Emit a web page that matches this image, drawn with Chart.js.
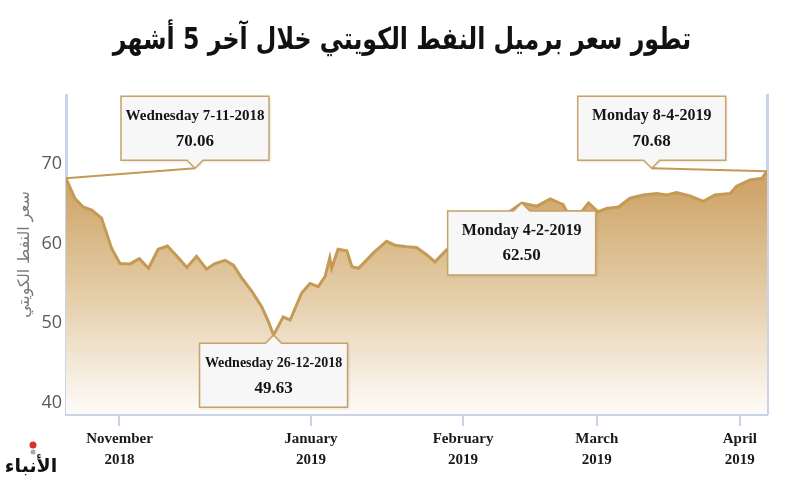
<!DOCTYPE html>
<html><head><meta charset="utf-8">
<script src="https://cdn.jsdelivr.net/npm/chart.js@4.4.1/dist/chart.umd.min.js"></script>
<style>html,body{margin:0;padding:0;background:#fff;}#wrap{width:793px;height:486px;}</style>
</head><body><div id="wrap"><canvas id="c" width="793" height="486"></canvas></div>
<script>
// ---- data ----
const titleText = 'تطور سعر برميل النفط الكويتي خلال آخر 5 أشهر';
const yAxisTitle = 'سعر النفط الكويتي';
const logoText = 'الأنباء';
// position along the time axis (days from first reading)
const xPos = [0,1.9,3.7,5.6,7.7,9.9,11.7,13.9,15.9,17.9,
  20.0,22.0,24.4,26.2,28.3,30.5,32.3,34.5,36.3,38.1,
  40.3,42.4,43.9,45.0,47.1,48.6,51.1,52.9,54.7,56.2,
  57.2,57.6,59.0,60.9,62.0,63.4,64.8,66.6,69.5,71.3,
  73.9,76.0,78.2,80.0,82.5,85.4,88.7,91.9,95.2,98.8,
  102.1,105.0,107.8,108.6,111.8,113.3,115.4,117.2,119.8,122.3,
  125.2,128.1,130.3,132.4,135.3,138.2,140.7,144.0,145.4,148.3,
  150.9,152];
const prices = [68.2,65.7,64.6,64.2,63.2,59.4,57.5,57.45,58.1,56.9,
  59.3,59.7,58.2,57.0,58.4,56.8,57.5,57.9,57.3,55.7,
  54.0,52.1,50.2,48.5,50.8,50.4,53.8,55.0,54.6,55.9,
  58.2,56.9,59.3,59.1,57.1,56.9,57.7,58.8,60.3,59.8,
  59.6,59.5,58.6,57.7,59.2,60.2,61.0,62.2,63.6,65.1,
  64.7,65.6,64.9,64.0,64.0,65.1,64.0,64.4,64.6,65.7,
  66.1,66.3,66.1,66.4,66.0,65.3,66.1,66.3,67.2,68.0,
  68.2,69.1];
const monthTickPos = [11.6,53.1,86.1,115.1,146.1];
const monthTickLabels = [['November','2018'],['January','2019'],['February','2019'],['March','2019'],['April','2019']];
const yTicks = [40,50,60,70];
const annDates = ['Wednesday 7-11-2018','Wednesday 26-12-2018','Monday 4-2-2019','Monday 8-4-2019'];
const annValues = ['70.06','49.63','62.50','70.68'];
const annPointIdx = [0,23,49,71];

// ---- annotation layout (styling) ----
const annLayout = [
  {dir:'down', tip:{x:27.97,y:69.46}, fs:15},
  {dir:'up', fs:14},
  {dir:'up', fs:16},
  {dir:'down', tip:{x:127.0,y:69.46}, fs:16}
];
const GOLD = '#c49a55';
const AXIS = '#c9d4e8';

const annPlugin = {
  id:'ann',
  afterDraw(chart){
    const {ctx, scales:{x,y}} = chart;
    const W=148,H=64,PH=8,PW=8;
    ctx.save();
    // title
    ctx.save();
    ctx.translate(402, 41);
    ctx.scale(0.79, 1);
    ctx.fillStyle='#111'; ctx.font='bold 30px "DejaVu Sans"';
    ctx.textAlign='center'; ctx.textBaseline='middle';
    ctx.fillText(titleText, 0, 0);
    ctx.restore();

    annPointIdx.forEach((idx,i)=>{
      const lay = annLayout[i];
      const px = x.getPixelForValue(xPos[idx]), py = y.getPixelForValue(prices[idx]);
      let tx=px, ty=py;
      if (lay.tip){ tx = x.getPixelForValue(lay.tip.x); ty = y.getPixelForValue(lay.tip.y); }
      const left = tx - W/2;
      let top;
      if (lay.dir==='down'){ top = ty-PH-H; } else { top = ty+PH; }
      if (lay.tip){
        ctx.strokeStyle=GOLD; ctx.lineWidth=2;
        ctx.beginPath(); ctx.moveTo(tx,ty); ctx.lineTo(px,py); ctx.stroke();
      }
      ctx.beginPath();
      if (lay.dir==='down'){
        ctx.moveTo(left,top); ctx.lineTo(left+W,top); ctx.lineTo(left+W,top+H);
        ctx.lineTo(tx+PW,top+H); ctx.lineTo(tx,ty); ctx.lineTo(tx-PW,top+H);
        ctx.lineTo(left,top+H); ctx.closePath();
      } else {
        ctx.moveTo(left,top); ctx.lineTo(tx-PW,top); ctx.lineTo(tx,ty); ctx.lineTo(tx+PW,top);
        ctx.lineTo(left+W,top); ctx.lineTo(left+W,top+H); ctx.lineTo(left,top+H); ctx.closePath();
      }
      ctx.shadowColor='rgba(0,0,0,0.15)'; ctx.shadowBlur=3; ctx.shadowOffsetX=1; ctx.shadowOffsetY=1;
      ctx.fillStyle='#f7f7f7'; ctx.fill();
      ctx.shadowColor='transparent';
      ctx.strokeStyle='#c8a267'; ctx.lineWidth=1.5; ctx.stroke();
      ctx.fillStyle='#151515'; ctx.textAlign='center'; ctx.textBaseline='middle';
      ctx.font='bold '+lay.fs+'px "Liberation Serif"';
      ctx.fillText(annDates[i], tx, top+20);
      ctx.font='bold 17px "Liberation Serif"';
      ctx.fillText(annValues[i], tx, top+45);
    });
    // logo
    ctx.fillStyle='#d8322a'; ctx.beginPath(); ctx.arc(33,445,3.5,0,Math.PI*2); ctx.fill();
    ctx.fillStyle='#aaaaaa'; ctx.beginPath(); ctx.arc(33,452,2.5,0,Math.PI*2); ctx.fill();
    ctx.fillStyle='#111'; ctx.font='bold 19px "DejaVu Sans"'; ctx.textAlign='center'; ctx.textBaseline='middle';
    ctx.fillText(logoText, 31, 467);
    ctx.restore();
  }
};

new Chart(document.getElementById('c'), {
  type:'line',
  data:{datasets:[{
    data: xPos.map((v,i)=>({x:v,y:prices[i]})),
    borderColor: GOLD, borderWidth:3, pointRadius:0, tension:0, fill:'start',
    backgroundColor: (c)=>{
      const a = c.chart.chartArea; if(!a) return 'rgba(0,0,0,0)';
      const g = c.chart.ctx.createLinearGradient(0,a.top,0,a.bottom);
      g.addColorStop(0,'#c4954f'); g.addColorStop(0.3,'#cfa76c');
      g.addColorStop(0.65,'#e6d0ad'); g.addColorStop(1,'#fefcf9');
      return g;
    }
  }]},
  options:{
    responsive:false, animation:false,
    layout:{padding:{left:14,right:26,top:95,bottom:0}},
    plugins:{legend:{display:false}, tooltip:{enabled:false}, title:{display:false}},
    scales:{
      x:{type:'linear', min:0, max:152, z:1,
        afterBuildTicks:s=>{s.ticks = monthTickPos.map(v=>({value:v}));},
        ticks:{autoSkip:false, maxRotation:0, padding:3, color:'#1a1a1a',
          font:{family:'Liberation Serif', size:15, weight:'bold', lineHeight:1.4},
          callback:(v,i)=>monthTickLabels[i]},
        grid:{display:true, drawOnChartArea:false, drawTicks:true, tickLength:12, color:AXIS, lineWidth:2},
        border:{display:true, color:AXIS, width:3},
        afterFit:s=>{s.height=72;}},
      y:{min:38.6, max:78.66, z:1,
        afterBuildTicks:s=>{s.ticks = yTicks.map(v=>({value:v}));},
        ticks:{padding:4, color:'#5a5a5a', font:{family:'Open Sans', size:18}},
        grid:{display:false, drawTicks:false},
        border:{display:true, color:AXIS, width:3},
        title:{display:true, text:yAxisTitle, color:'#7a7a7a', font:{family:'DejaVu Sans', size:16}, padding:{top:1,bottom:0}},
        afterFit:s=>{s.width=52;}},
      y2:{position:'right', min:38.6, max:78.66, z:1,
        ticks:{display:false}, grid:{display:false, drawTicks:false},
        border:{display:true, color:AXIS, width:3},
        afterFit:s=>{s.width=0;}}
    }
  },
  plugins:[annPlugin]
});
</script></body></html>
